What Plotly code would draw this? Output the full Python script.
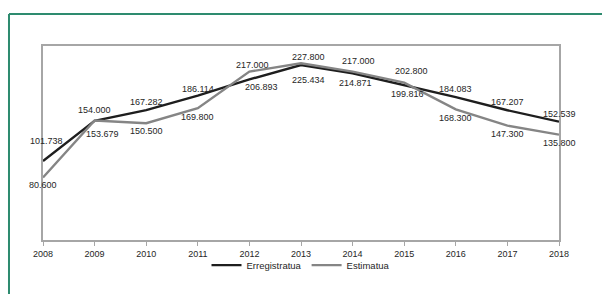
import plotly.graph_objects as go

years = [2008, 2009, 2010, 2011, 2012, 2013, 2014, 2015, 2016, 2017, 2018]
erregistratua = [101.738, 153.679, 167.282, 186.114, 206.893, 225.434, 214.871, 199.816, 184.083, 167.207, 152.539]
estimatua = [80.600, 154.000, 150.500, 169.800, 217.000, 227.800, 217.000, 202.800, 168.300, 147.300, 135.800]

# label offsets in screen pixels (dx right, dy down) -- layout only
erreg_dx = [3, 8, 0, 0, 12, 7, 3, 3, 0, 0, 0]
erreg_dy = [-20, 13, -8, -7, 8, 15, 10, 9, -8, -8, -8]
estim_dx = [0, 0, 0, 0, 3, 7, 6, 7, 0, 0, 0]
estim_dy = [8, -11, 8, 9, -7, -6, -11, -12, 9, 8, 8]

FONT = "Liberation Sans, Arial"

def fmt(v):
    return f"{v:.3f}"

fig = go.Figure()
fig.add_trace(go.Scatter(
    x=years, y=erregistratua, name="Erregistratua", mode="lines",
    line=dict(color="#1e1e1e", width=2.4),
))
fig.add_trace(go.Scatter(
    x=years, y=estimatua, name="Estimatua", mode="lines",
    line=dict(color="#858585", width=2.4),
))

annotations = []
for xs, ys, dxs, dys in [(years, erregistratua, erreg_dx, erreg_dy),
                         (years, estimatua, estim_dx, estim_dy)]:
    for x, y, dx, dy in zip(xs, ys, dxs, dys):
        annotations.append(dict(
            x=x, y=y, xref="x", yref="y", text=fmt(y), showarrow=False,
            xanchor="center", yanchor="middle", xshift=dx, yshift=-dy,
            font=dict(family=FONT, size=9, color="#262626"),
        ))

fig.update_layout(
    width=602, height=294,
    margin=dict(l=43, r=43, t=46, b=54),
    paper_bgcolor="white", plot_bgcolor="white",
    font=dict(family=FONT, size=9, color="#262626"),
    showlegend=True,
    legend=dict(orientation="h", x=0.5, xanchor="center", y=-0.055, yanchor="top",
                font=dict(size=9.5), itemwidth=30, tracegroupgap=0,
                bgcolor="rgba(0,0,0,0)"),
    xaxis=dict(range=[2008, 2018], tickvals=years, ticktext=[str(y) for y in years],
               showgrid=False, zeroline=False, showline=True, linecolor="#a6a6a6", linewidth=2,
               mirror=True, ticks="outside", ticklen=4, tickcolor="#a6a6a6", tickwidth=1,
               tickfont=dict(size=9, color="#262626")),
    yaxis=dict(range=[0, 250], showgrid=False, zeroline=False, showticklabels=False,
               showline=True, linecolor="#a6a6a6", linewidth=2, mirror=True, ticks=""),
    annotations=annotations,
    shapes=[
        dict(type="line", xref="paper", yref="paper", x0=-0.0659, x1=1.2, y0=1.165, y1=1.165,
             line=dict(color="#2e8b6f", width=2)),
        dict(type="line", xref="paper", yref="paper", x0=-0.0659, x1=-0.0659, y0=1.165, y1=-0.4,
             line=dict(color="#2e8b6f", width=2)),
    ],
)

fig.write_html("out.html", config={"displayModeBar": False},
               post_script="document.body.style.margin='0';document.body.style.overflow='hidden';")
